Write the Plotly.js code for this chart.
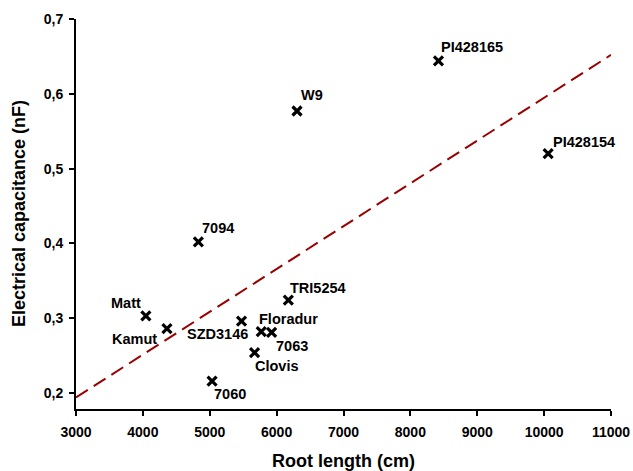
<!DOCTYPE html>
<html>
<head>
<meta charset="utf-8">
<script src="https://cdn.plot.ly/plotly-3.0.1.min.js"></script>
<style>html,body{margin:0;padding:0;background:#fff;}#chart{width:633px;height:471px;}</style>
</head>
<body>
<div id="chart"></div>
<script>
// Data
var names = ["PI428165","W9","PI428154","7094","Matt","Kamut","SZD3146","Floradur","7063","Clovis","7060","TRI5254"];
var rootLength = [8420, 6305, 10060, 4830, 4045, 4360, 5475, 5770, 5925, 5670, 5035, 6175];
var capacitance = [0.644, 0.577, 0.520, 0.402, 0.303, 0.286, 0.296, 0.282, 0.281, 0.254, 0.216, 0.324];
var trendX = [3000, 11000];
var trendY = [0.194, 0.652];
var xTicks = [3000, 4000, 5000, 6000, 7000, 8000, 9000, 10000, 11000];
var yTicks = [0.2, 0.3, 0.4, 0.5, 0.6, 0.7];

// Label placement (style): anchor side and pixel offsets
var labelStyle = {
  "PI428165": ["left", 1, 14],
  "W9": ["left", 2, 16],
  "PI428154": ["left", 3, 12],
  "7094": ["left", 2, 14],
  "Matt": ["right", -3, 13],
  "Kamut": ["right", -8, -10],
  "SZD3146": ["right", 8, -13],
  "Floradur": ["left", -4, 13],
  "7063": ["left", 2, -14],
  "Clovis": ["left", -2, -13],
  "7060": ["left", 0, -13],
  "TRI5254": ["left", 0, 12]
};

var FONT = "Liberation Sans, Arial, sans-serif";
var annotations = names.map(function(n, i) {
  var s = labelStyle[n];
  return {
    x: rootLength[i], y: capacitance[i], xref: "x", yref: "y",
    text: "<b>" + n + "</b>", showarrow: false,
    xanchor: s[0], yanchor: "middle", xshift: s[1], yshift: s[2],
    font: {family: FONT, size: 14.5, color: "#000"}
  };
});
annotations.push({
  xref: "paper", yref: "paper", x: 0.5, y: 0, yshift: -52, xshift: 0,
  xanchor: "center", yanchor: "middle", showarrow: false,
  text: "<b>Root length (cm)</b>", font: {family: FONT, size: 18, color: "#000"}
});
annotations.push({
  xref: "paper", yref: "paper", x: 0, y: 0.5, xshift: -57, yshift: 0,
  xanchor: "center", yanchor: "middle", showarrow: false, textangle: -90,
  text: "<b>Electrical capacitance (nF)</b>", font: {family: FONT, size: 18, color: "#000"}
});

var traces = [
  {
    x: trendX, y: trendY, mode: "lines", type: "scatter",
    line: {color: "#990000", width: 2, dash: "14px,7px"}, hoverinfo: "skip"
  },
  {
    x: rootLength, y: capacitance, mode: "markers", type: "scatter",
    marker: {symbol: "x-thin", size: 9, line: {color: "#000", width: 3.2}, color: "#000"}
  }
];

var layout = {
  width: 633, height: 471,
  margin: {l: 76, r: 22, t: 19, b: 62},
  paper_bgcolor: "#fff", plot_bgcolor: "#fff",
  showlegend: false,
  separators: ",.",
  font: {family: FONT, color: "#000"},
  xaxis: {
    range: [3000, 11000], tickvals: xTicks, tickformat: "d",
    showgrid: false, zeroline: false, showline: true, linecolor: "#000", linewidth: 2,
    ticks: "outside", ticklen: 5, tickwidth: 2, tickcolor: "#000",
    tickfont: {family: FONT, size: 14, color: "#000", weight: "bold"},
    ticklabelstandoff: 4
  },
  yaxis: {
    range: [0.1786, 0.7], tickvals: yTicks, tickformat: ".1f",
    showgrid: false, zeroline: false, showline: true, linecolor: "#000", linewidth: 2,
    ticks: "outside", ticklen: 5, tickwidth: 2, tickcolor: "#000",
    tickfont: {family: FONT, size: 14, color: "#000", weight: "bold"},
    ticklabelstandoff: 3
  },
  annotations: annotations
};

Plotly.newPlot("chart", traces, layout, {displayModeBar: false, staticPlot: true});
</script>
</body>
</html>
